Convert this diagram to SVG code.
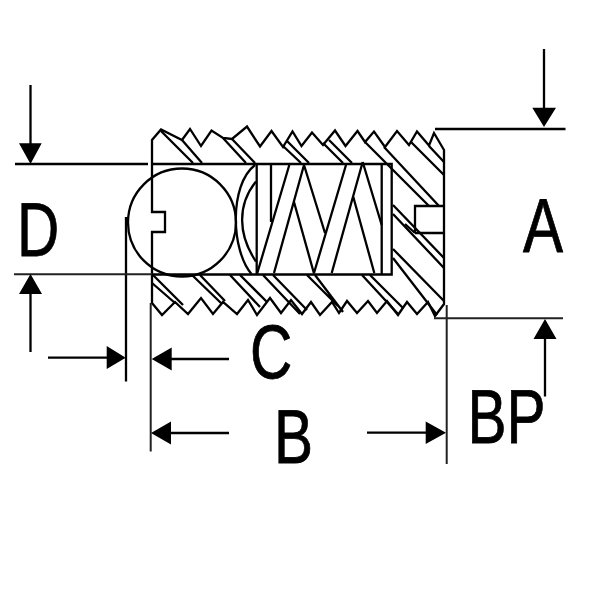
<svg xmlns="http://www.w3.org/2000/svg" width="600" height="600" viewBox="0 0 600 600">
<style>
.l{fill:none;stroke:#000;stroke-width:2.300;stroke-linejoin:miter}
.t{fill:none;stroke:#222;stroke-width:2}
.h{fill:#000;stroke:none}
text{font-family:"Liberation Sans",Arial,sans-serif;font-size:76px;fill:#000;stroke:#000;stroke-width:.8}
</style>
<rect width="600" height="600" fill="#fff"/>
<g id="body">
<path class="l" d="M165 212H152V140L161 129.500L182 140L190 129L201 146L211.500 130.500L223 138L232 139L247 126.500L260 146.500L271.500 131L283 147L292.500 131.500L301.500 146L312 132.500L323 145L335 130.500L345.500 146L357.500 131L365 142L374 131.500L385 147L397 131L409 145L417 131.500L429 145.500L434 133L444 150V304L435 316L428 302L417 314L407 302L398 315L387 301L377 313L368 301L357 313L347 301L339 313L332 302L320 315L311 302L302 314L291 300L281 313L270 298L257 315L248 300L237 314L223 302L213 314L201 298L188 314L175 302L162 315L152 303V232H165Z"/>
<path class="l" d="M161 131L193 163M182 140L202 163M223 138L246 163M232 139L255 163M283 146L301 163M287 141L309 163M323 143L343 163M329 140L352 163M365 142L429 206M384 147L439 206M411 142L444 175M429 146L444 162M393 205L444 258M393 214L444 268M393 249L444 301M393 258L437 315"/>
<path class="l" d="M153 275L183 305M152 283L175 303M192 275L222 304M200 275L225 301M230 275L260 307M240 275L267 302M263 275L300 314M273 275L307 310M307 275L338 306M315 275L343 312M362 275L398 314M370 275L403 308"/>
<path class="l" d="M415 233V206H444M415 233H444M405 224L415 233"/>
</g>
<g id="ball"><circle class="l" cx="182" cy="222.500" r="54"/></g>
<g id="plunger"><path class="l" d="M255 165C229 185 231 250 251.500 274M256 181.500C237 205 238 235 256 261.500"/></g>
<g id="spring">
<path class="l" d="M152 164H391.700V274.500H152M256.700 164V275M271 164V222M381.700 164V274.500"/>
<path class="l" d="M289.300 165L257 274M304 165L274 273M304 165L325 233M294 202L314 273.500M346 165L314 273M362.700 162L331.700 273M362.700 162L381.700 225M353.300 197L374.300 273"/>
</g>
<g id="connectors">
<path class="l" d="M15 164H148M435 129H565.500M30.500 85V150M30.500 290V352M126 217V381.500M48 357.700H110M168 359H229M168 433H229M367 432.700H430M544 49V112M545 335V396.500"/>
<path class="t" d="M14 274.200H152M150.700 303V451.500M446.700 305V464M434 318.300H563"/>
<path class="h" d="M19 143.300H41.700L30.500 164ZM19 294H42L30.500 274ZM106.700 346L125.700 357.700L106.700 369ZM171.700 347.500L151.700 359L171.700 370.500ZM171 421.500L151 433L171 444.500ZM425.700 421.500L446 432.700L425.700 444ZM532.300 107.700H556L544 127ZM533.500 339H556.500L545 319Z"/>
</g>
<g id="labels">
<text transform="translate(17 256) scale(.77 1)">D</text>
<text transform="translate(523 252) scale(.79 1)">A</text>
<text transform="translate(250 378) scale(.77 1)">C</text>
<text transform="translate(274 463) scale(.77 1)">B</text>
<text transform="translate(467.500 443) scale(.77 1)">BP</text>
</g>
</svg>
